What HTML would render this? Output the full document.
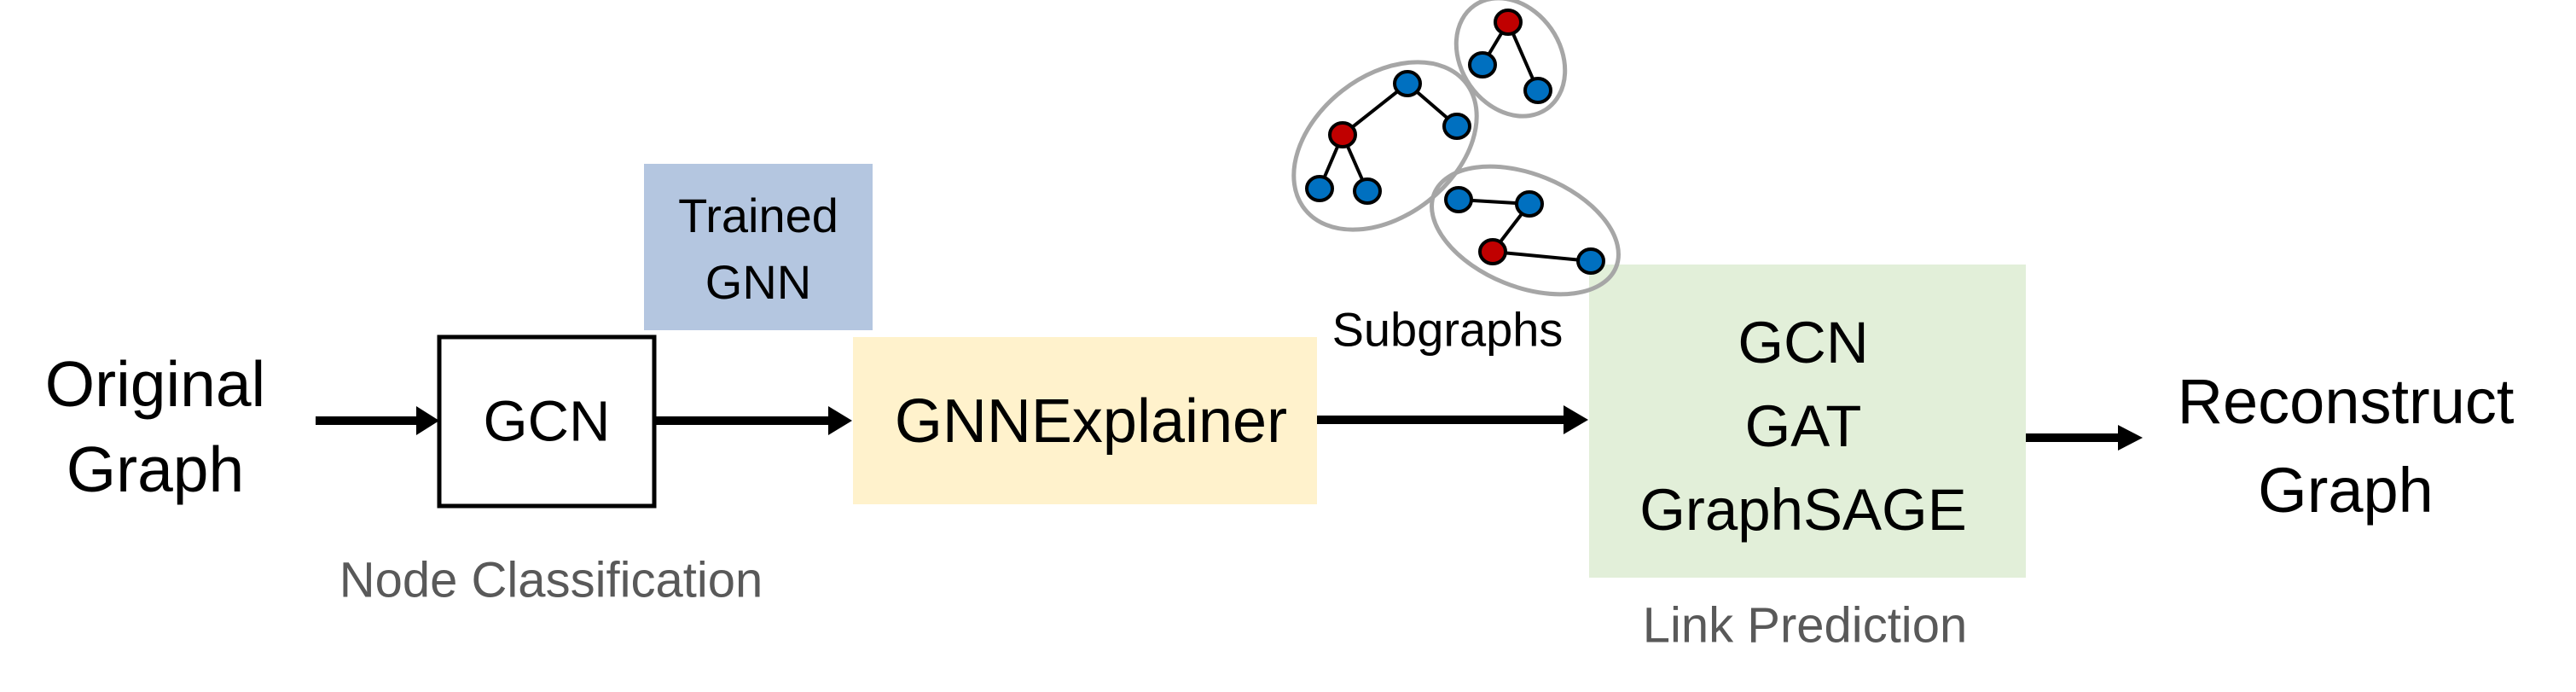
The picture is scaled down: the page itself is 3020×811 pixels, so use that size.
<!DOCTYPE html>
<html><head><meta charset="utf-8"><style>
html,body{margin:0;padding:0;background:#fff;}
body{width:3020px;height:811px;position:relative;overflow:hidden;font-family:"Liberation Sans",sans-serif;}
.t{position:absolute;transform:translate(-50%,-50%);white-space:nowrap;color:#000;text-align:center;}
</style></head><body>
<svg width="3020" height="811" style="position:absolute;left:0;top:0">
<rect x="755" y="192" width="268" height="195" fill="#b4c6e0"/>
<rect x="515" y="395" width="252" height="198" fill="#fff" stroke="#000" stroke-width="5"/>
<rect x="1000" y="395" width="544" height="196" fill="#fff2cc"/>
<rect x="1863" y="310" width="512" height="367" fill="#e2efd9"/>
<g fill="#000">
<rect x="370" y="488" width="120" height="10"/><polygon points="488,476 515,493 488,510"/>
<rect x="767" y="488" width="206" height="10"/><polygon points="971,476 999,493 971,510"/>
<rect x="1544" y="487" width="292" height="10"/><polygon points="1833,475 1862,492 1833,509"/>
<rect x="2375" y="508" width="110" height="10"/><polygon points="2483,498 2512,513 2483,528"/>
</g>
<g fill="none" stroke="#a6a6a6" stroke-width="5">
<ellipse cx="1624" cy="171" rx="120" ry="82" transform="rotate(-38 1624 171)"/>
<ellipse cx="1771" cy="67" rx="74" ry="58" transform="rotate(55 1771 67)"/>
<ellipse cx="1788" cy="270" rx="115" ry="66" transform="rotate(22 1788 270)"/>
</g>
<g stroke="#000" stroke-width="4">
<line x1="1650" y1="98" x2="1574" y2="158"/><line x1="1650" y1="98" x2="1708" y2="148"/>
<line x1="1574" y1="158" x2="1547" y2="221"/><line x1="1574" y1="158" x2="1603" y2="224"/>
<line x1="1768" y1="26" x2="1738" y2="76"/><line x1="1768" y1="26" x2="1803" y2="106"/>
<line x1="1710" y1="234" x2="1793" y2="239"/><line x1="1793" y1="239" x2="1750" y2="295"/><line x1="1750" y1="295" x2="1865" y2="306"/>
</g>
<g stroke="#000" stroke-width="4">
<ellipse cx="1650" cy="98" rx="15" ry="14" fill="#0070c0"/>
<ellipse cx="1574" cy="158" rx="15" ry="14" fill="#c00000"/>
<ellipse cx="1708" cy="148" rx="15" ry="14" fill="#0070c0"/>
<ellipse cx="1547" cy="221" rx="15" ry="14" fill="#0070c0"/>
<ellipse cx="1603" cy="224" rx="15" ry="14" fill="#0070c0"/>
<ellipse cx="1768" cy="26" rx="15" ry="14" fill="#c00000"/>
<ellipse cx="1738" cy="76" rx="15" ry="14" fill="#0070c0"/>
<ellipse cx="1803" cy="106" rx="15" ry="14" fill="#0070c0"/>
<ellipse cx="1710" cy="234" rx="15" ry="14" fill="#0070c0"/>
<ellipse cx="1793" cy="239" rx="15" ry="14" fill="#0070c0"/>
<ellipse cx="1750" cy="295" rx="15" ry="14" fill="#c00000"/>
<ellipse cx="1865" cy="306" rx="15" ry="14" fill="#0070c0"/>
</g>
</svg>
<div class="t" style="left:182px;top:500px;font-size:75px;line-height:100px;">Original<br>Graph</div>
<div class="t" style="left:641px;top:494px;font-size:67px;">GCN</div>
<div class="t" style="left:889px;top:292px;font-size:56px;line-height:78px;">Trained<br>GNN</div>
<div class="t" style="left:1279px;top:494px;font-size:72px;">GNNExplainer</div>
<div class="t" style="left:646px;top:680px;font-size:58px;color:#595959;">Node Classification</div>
<div class="t" style="left:1697px;top:386px;font-size:56px;">Subgraphs</div>
<div class="t" style="left:2114px;top:500px;font-size:69px;line-height:98px;">GCN<br>GAT<br>GraphSAGE</div>
<div class="t" style="left:2116px;top:733px;font-size:58px;color:#595959;">Link Prediction</div>
<div class="t" style="left:2750px;top:523px;font-size:74px;line-height:104px;">Reconstruct<br>Graph</div>
</body></html>
